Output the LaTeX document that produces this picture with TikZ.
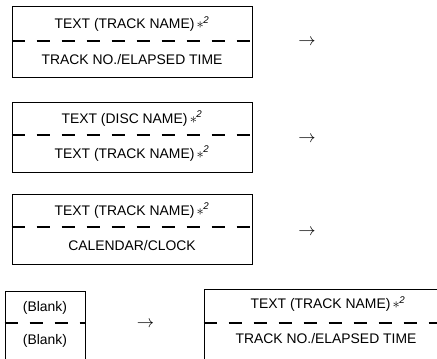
\documentclass[tikz,border=0pt]{standalone}
\usepackage{fontspec}
\setmainfont{Liberation Sans}
\usetikzlibrary{positioning}
\newcommand\starnote{\,$\ast$\textsuperscript{\kern-0.5pt\itshape 2}}

\begin{document}
\begin{tikzpicture}[x=1pt,y=-1pt,font=\fontsize{13.9}{16}\selectfont,
  panel/.style={draw,line width=1pt,minimum width=240pt,minimum height=70pt,inner sep=0pt},
  split/.style={line width=2pt,dash pattern=on 13pt off 12pt},
  label/.style={inner sep=1pt},
  arr/.style={font=\fontsize{19}{19}\selectfont,inner sep=0pt}]
  \clip (0,0) rectangle (437,359);
  % first display
  \node[panel,minimum height=71pt] (disp1) at (132,41.5) {};
  \draw[split] (disp1.north west) ++(0,35) -- ++(240,0);
  \node[label] (upper1) at (132,24) {TEXT (TRACK NAME)\starnote};
  \node[label] (lower1) at (132,59.5) {TRACK NO./ELAPSED TIME};
  \node[arr] (go1) at (307,42) {$\rightarrow$};
  % second display
  \node[panel] (disp2) at (132,137) {};
  \draw[split] (disp2.north west) ++(0,33) -- ++(240,0);
  \node[label] (upper2) at (132,118.5) {TEXT (DISC NAME)\starnote};
  \node[label] (lower2) at (132,153.5) {TEXT (TRACK NAME)\starnote};
  \node[arr] (go2) at (307,139) {$\rightarrow$};
  % third display
  \node[panel] (disp3) at (132,229) {};
  \draw[split] (disp3.north west) ++(0,33) -- ++(240,0);
  \node[label] (upper3) at (132,210.5) {TEXT (TRACK NAME)\starnote};
  \node[label] (lower3) at (132,245.5) {CALENDAR/CLOCK};
  \node[arr] (go3) at (307,232) {$\rightarrow$};
  % blank display and the one after it
  \node[panel,minimum width=80pt] (blank) at (45,326) {};
  \draw[split] (blank.north west) ++(0,32) -- ++(80,0);
  \node[label] (upper4) at (45,308) {(Blank)};
  \node[label] (lower4) at (45,341) {(Blank)};
  \node[arr] (go4) at (145.5,324) {$\rightarrow$};
  \node[panel,minimum width=242pt,minimum height=72pt] (disp5) at (325,325) {};
  \draw[split] (disp5.north west) ++(0,34) -- ++(242,0);
  \node[label] (upper5) at (328,304) {TEXT (TRACK NAME)\starnote};
  \node[label] (lower5) at (326,339) {TRACK NO./ELAPSED TIME};
\end{tikzpicture}
\end{document}
